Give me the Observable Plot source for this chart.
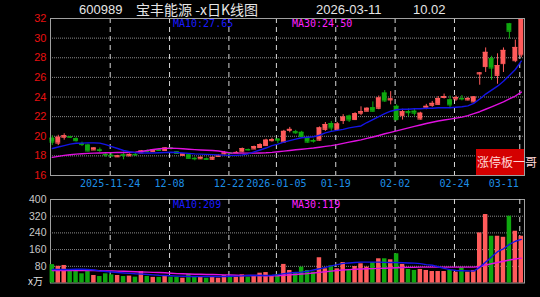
<!DOCTYPE html>
<html>
<head>
<meta charset="utf-8">
<script src="https://cdn.jsdelivr.net/npm/d3@7"></script>
<script src="https://cdn.jsdelivr.net/npm/@observablehq/plot@0.6"></script>
<style>
  html, body { margin: 0; padding: 0; background: #000; }
  #wrap { position: relative; width: 540px; height: 297px; background: #000; overflow: hidden; }
  #wrap svg { position: absolute; left: 0; }
  .t { position: absolute; white-space: nowrap; line-height: 1; }
</style>
</head>
<body>
<div id="wrap"></div>
<script>
// ---------- data ----------
const stockCode = "600989";
const stockName = "宝丰能源 -x日K线图";
const lastDate = "2026-03-11";
const lastChange = "10.02";
const watermark = "涨停板一哥";
const volUnit = "x万";

const dates = [
  "2025-11-10","2025-11-11","2025-11-12","2025-11-13","2025-11-14","2025-11-17","2025-11-18","2025-11-19","2025-11-20","2025-11-21",
  "2025-11-24","2025-11-25","2025-11-26","2025-11-27","2025-11-28","2025-12-01","2025-12-02","2025-12-03","2025-12-04","2025-12-05",
  "2025-12-08","2025-12-09","2025-12-10","2025-12-11","2025-12-12","2025-12-15","2025-12-16","2025-12-17","2025-12-18","2025-12-19",
  "2025-12-22","2025-12-23","2025-12-24","2025-12-25","2025-12-26","2025-12-29","2025-12-30","2025-12-31","2026-01-05","2026-01-06",
  "2026-01-07","2026-01-08","2026-01-09","2026-01-12","2026-01-13","2026-01-14","2026-01-15","2026-01-16","2026-01-19","2026-01-20",
  "2026-01-21","2026-01-22","2026-01-23","2026-01-26","2026-01-27","2026-01-28","2026-01-29","2026-01-30","2026-02-02","2026-02-03",
  "2026-02-04","2026-02-05","2026-02-06","2026-02-09","2026-02-10","2026-02-11","2026-02-12","2026-02-13","2026-02-24","2026-02-25",
  "2026-02-26","2026-02-27","2026-03-02","2026-03-03","2026-03-04","2026-03-05","2026-03-06","2026-03-09","2026-03-10","2026-03-11"
];
const open = [
  19.8,19.3,19.9,19.95,19.75,19.25,19.1,18.6,18.6,18.15,
  18.05,17.9,18.1,18.0,18.15,18.3,18.5,18.45,18.6,18.55,
  18.8,18.4,18.05,18.1,17.75,17.7,17.7,17.65,17.95,18.2,
  18.3,18.3,18.4,18.65,18.7,18.85,19.05,19.55,19.7,19.4,
  20.6,20.45,20.4,19.85,19.55,19.6,20.7,21.3,20.7,21.6,
  22.05,21.7,22.35,22.55,22.9,22.85,24.4,23.7,23.05,22.1,
  22.5,22.55,21.75,22.85,23.15,23.25,23.95,23.7,23.8,23.85,
  23.7,23.5,26.35,27.1,27.9,26.2,27.4,31.45,27.7,28.3
];
const high = [
  20.05,20.1,20.25,20.0,19.85,19.4,19.2,18.85,18.8,18.3,
  18.25,18.05,18.4,18.2,18.25,18.55,18.6,18.65,18.7,18.85,
  18.85,18.45,18.25,18.15,17.85,17.9,17.8,17.9,18.1,18.45,
  18.35,18.45,18.8,18.7,19.0,19.25,19.7,19.8,19.75,20.6,
  20.9,20.6,20.5,19.95,19.7,20.95,21.4,21.5,21.4,22.2,
  22.15,22.4,23.0,22.9,23.5,24.1,24.65,24.55,23.2,22.75,
  22.8,22.8,22.45,23.25,23.55,24.05,24.3,24.1,24.1,24.15,
  23.95,24.05,26.5,29.0,28.15,28.4,29.0,31.5,29.8,31.96
];
const low = [
  19.05,19.05,19.6,19.8,19.4,18.95,18.4,18.55,18.35,17.85,
  17.9,17.85,17.6,17.95,17.95,18.25,18.3,18.4,18.45,18.5,
  18.6,18.15,18.0,17.7,17.5,17.65,17.55,17.55,17.85,18.1,
  18.2,18.25,18.35,18.5,18.65,18.8,19.0,19.4,19.25,19.3,
  20.35,20.2,19.85,19.3,19.3,19.5,20.5,20.5,20.6,21.2,
  21.4,21.6,22.1,22.5,22.45,22.7,23.45,23.2,21.55,21.65,
  22.0,22.05,21.65,22.7,22.95,23.15,23.8,22.8,23.55,23.6,
  23.6,23.45,25.2,26.5,25.7,25.3,26.5,29.9,27.5,28.0
];
const close = [
  19.4,19.9,20.05,19.9,19.55,19.15,18.5,18.8,18.55,18.1,
  18.0,18.0,18.05,18.15,18.1,18.5,18.45,18.6,18.55,18.8,
  18.75,18.25,18.2,17.75,17.7,17.85,17.65,17.85,18.0,18.3,
  18.25,18.35,18.75,18.6,18.95,19.15,19.6,19.65,19.6,20.5,
  20.7,20.35,19.95,19.4,19.5,20.85,21.2,20.85,21.25,21.95,
  21.65,22.3,22.5,22.85,22.55,23.9,23.6,23.8,21.7,22.5,
  22.4,22.35,22.35,23.05,23.35,23.85,24.05,23.2,23.95,23.8,
  23.85,24.0,26.45,28.55,26.95,27.2,28.75,30.7,29.05,31.96
];
const volume = [
  88,80,84,55,55,44,55,36,31,44,
  39,36,31,33,28,55,31,27,27,31,
  28,28,23,42,31,27,23,27,23,36,
  28,28,39,28,36,47,50,31,41,89,
  60,47,76,60,52,121,68,82,68,98,
  65,79,92,76,98,116,116,111,140,89,
  65,60,65,60,55,55,55,60,52,73,
  52,60,240,328,224,224,219,320,248,224
];
const ma10 = [
  18.75,18.9,19.05,19.2,19.28,19.3,19.32,19.32,19.3,19.15,
  18.95,18.75,18.55,18.42,18.33,18.3,18.3,18.3,18.32,18.35,
  18.37,18.35,18.3,18.25,18.2,18.18,18.15,18.13,18.1,18.08,
  18.05,18.05,18.1,18.2,18.4,18.6,18.8,19.05,19.2,19.4,
  19.55,19.7,19.85,19.9,19.95,20.1,20.35,20.5,20.6,20.7,
  20.85,20.95,21.05,21.4,21.7,22.0,22.3,22.55,22.7,22.75,
  22.75,22.8,22.8,22.85,22.85,22.9,22.9,22.9,22.95,23.0,
  23.1,23.35,23.8,24.3,24.7,25.1,25.6,26.2,26.8,27.65
];
const ma30 = [
  17.85,17.95,18.05,18.12,18.18,18.22,18.25,18.28,18.3,18.32,
  18.33,18.34,18.35,18.36,18.38,18.45,18.55,18.65,18.72,18.76,
  18.78,18.76,18.72,18.68,18.64,18.6,18.57,18.55,18.5,18.4,
  18.3,18.28,18.28,18.28,18.28,18.3,18.32,18.36,18.42,18.48,
  18.55,18.62,18.68,18.74,18.8,18.88,18.97,19.05,19.15,19.28,
  19.4,19.52,19.63,19.78,19.92,20.08,20.25,20.4,20.55,20.7,
  20.85,21.0,21.15,21.3,21.43,21.55,21.65,21.75,21.85,21.95,
  22.1,22.3,22.5,22.75,23.0,23.25,23.5,23.8,24.1,24.5
];
const volMa10 = [
  65,65,65,65,66,66,65,62,58,55,
  53,50,48,46,44,43,41,39,37,36,
  35,33,32,31,31,31,31,31,31,31,
  32,33,34,36,36,36,36,37,40,45,
  48,50,52,56,62,68,75,82,88,94,
  96,98,100,100,100,100,99,98,98,97,
  96,95,93,88,85,78,70,64,60,59,
  58,57,75,100,125,150,164,185,200,209
];
const volMa30 = [
  60,60,60,60,60,60,60,60,59,58,
  58,57,56,55,54,53,52,51,50,49,
  47,45,44,43,42,42,41,41,40,39,
  38,37,36,36,36,36,35,34,35,37,
  39,41,43,45,48,51,54,57,60,62,
  64,66,67,68,69,70,71,72,73,74,
  75,75,76,76,76,76,76,76,76,76,
  76,76,79,86,92,98,104,110,115,119
];
const priceTicks = [16,18,20,22,24,26,28,30,32];
const priceGrid = [18,20,22,24,26,28,30];
const volTicks = [80,160,240,320,400];
const volGrid = [80,160,240,320];
const dateTicks = ["2025-11-24","2025-12-08","2025-12-22","2026-01-05","2026-01-19","2026-02-02","2026-02-24","2026-03-11"];
const dateTickLabels = ["2025-11-24","12-08","12-22","2026-01-05","01-19","02-02","02-24","03-11"];

// ---------- build ----------
const UP = "#ff5b5b", DOWN = "#0fa80f";
const BLUE = "#1414e6", MAG = "#e010e0";
const candles = dates.map((d, i) => ({
  date: d, open: open[i], high: high[i], low: low[i], close: close[i],
  volume: volume[i], ma10: ma10[i], ma30: ma30[i], vma10: volMa10[i], vma30: volMa30[i]
}));
const col = d => d.close >= d.open ? UP : DOWN;
const labelRows = dateTicks.map((d, i) => ({date: d, label: dateTickLabels[i]}));
const innerLabels = labelRows.slice(0, -1);
const lastLabel = labelRows.slice(-1);

const xScale = {type: "band", domain: dates, range: [48.8, 523.8], paddingInner: 0.18, paddingOuter: 0.1, round: false, axis: null};
const monoFont = "'DejaVu Sans Mono', monospace";
const xLabelStyle = {frameAnchor: "bottom", lineAnchor: "top", dy: 4, fill: "#1e8fe6", fontSize: 10, fontFamily: monoFont};

const main = Plot.plot({
  width: 540, height: 190,
  marginLeft: 50, marginRight: 16, marginTop: 18, marginBottom: 15,
  style: {background: "transparent", overflow: "visible"},
  x: xScale,
  y: {domain: [16, 32], axis: null},
  marks: [
    Plot.ruleY(priceGrid, {stroke: "#8a8a8a", strokeDasharray: "1,1"}),
    Plot.ruleX(dateTicks, {x: d => d, dx: -1.5, stroke: "#d8d8d8", strokeDasharray: "5,4"}),
    Plot.ruleX(candles, {x: "date", y1: "low", y2: "high", stroke: col, strokeWidth: 1}),
    Plot.barY(candles, {x: "date", y1: "open", y2: "close", fill: col}),
    Plot.tickY(candles, {x: "date", y: "close", stroke: col}),
    Plot.tickY(candles, {x: "date", y: "open", stroke: col}),
    Plot.line(candles, {x: "date", y: "ma30", stroke: MAG, strokeWidth: 1.4}),
    Plot.line(candles, {x: "date", y: "ma10", stroke: BLUE, strokeWidth: 1.4}),
    Plot.frame({stroke: "#a0a0a0"}),
    Plot.text(priceTicks, {y: d => d, frameAnchor: "left", dx: -4, textAnchor: "end", text: d => String(d),
      fill: "#e81010", fontSize: 11, fontFamily: "'Liberation Sans', Arial, sans-serif"}),
    Plot.text(innerLabels, {x: "date", text: "label", textAnchor: "middle", dx: -1.5, ...xLabelStyle}),
    Plot.text(lastLabel, {x: "date", text: "label", textAnchor: "end", dx: -2.5, ...xLabelStyle})
  ]
});
main.style.top = "0px";

const vol = Plot.plot({
  width: 540, height: 107,
  marginLeft: 50, marginRight: 16, marginTop: 9, marginBottom: 14.5,
  style: {background: "transparent", overflow: "visible"},
  x: xScale,
  y: {domain: [0, 400], axis: null},
  marks: [
    Plot.frame({stroke: "#a0a0a0"}),
    Plot.ruleY(volGrid, {stroke: "#8a8a8a", strokeDasharray: "1,1"}),
    Plot.ruleX(dateTicks, {x: d => d, dx: -1.5, stroke: "#d8d8d8", strokeDasharray: "5,4"}),
    Plot.barY(candles, {x: "date", y: "volume", fill: col, insetLeft: 0.2, insetRight: 0.2}),
    Plot.line(candles, {x: "date", y: "vma30", stroke: MAG, strokeWidth: 1.4}),
    Plot.line(candles, {x: "date", y: "vma10", stroke: BLUE, strokeWidth: 1.4}),
    Plot.text(volTicks, {y: d => d, frameAnchor: "left", dx: -4, textAnchor: "end", text: d => String(d),
      fill: "#c8c8c8", fontSize: 10.5, fontFamily: "'Liberation Sans', Arial, sans-serif"})
  ]
});
vol.style.top = "190px";

const wrap = document.getElementById("wrap");
wrap.appendChild(main);
wrap.appendChild(vol);

function addText(txt, left, top, css) {
  const s = document.createElement("span");
  s.className = "t";
  s.textContent = txt;
  s.style.left = left + "px";
  s.style.top = top + "px";
  Object.assign(s.style, css);
  wrap.appendChild(s);
  return s;
}
const titleCss = {color: "#e6e6e6", fontFamily: "'Liberation Sans', Arial, sans-serif", fontSize: "13px"};
addText(stockCode, 79, 3, titleCss);
addText(stockName, 136, 2, {color: "#e6e6e6", fontFamily: "'Noto Sans CJK SC', sans-serif", fontSize: "14px"});
addText(lastDate, 316, 3, titleCss);
addText(lastChange, 413, 3, titleCss);

const maCss = {fontFamily: monoFont, fontSize: "10px"};
addText("MA10:" + ma10[ma10.length - 1].toFixed(2), 173, 19, Object.assign({color: "#1a1aff"}, maCss));
addText("MA30:" + ma30[ma30.length - 1].toFixed(2), 292, 19, Object.assign({color: "#ff22ff"}, maCss));
addText("MA10:" + volMa10[volMa10.length - 1], 173, 200, Object.assign({color: "#1a1aff"}, maCss));
addText("MA30:" + volMa30[volMa30.length - 1], 292, 200, Object.assign({color: "#ff22ff"}, maCss));
addText(volUnit, 28, 276, {color: "#e0e0e0", fontFamily: "'Noto Sans CJK SC', sans-serif", fontSize: "10px"});

// watermark box
const box = document.createElement("div");
Object.assign(box.style, {position: "absolute", left: "476px", top: "149px", width: "48px", height: "26px", background: "#d40000"});
wrap.appendChild(box);
addText(watermark, 477, 156, {color: "#ffd6d6", fontFamily: "'Noto Sans CJK SC', sans-serif", fontSize: "12px"});
</script>
</body>
</html>
